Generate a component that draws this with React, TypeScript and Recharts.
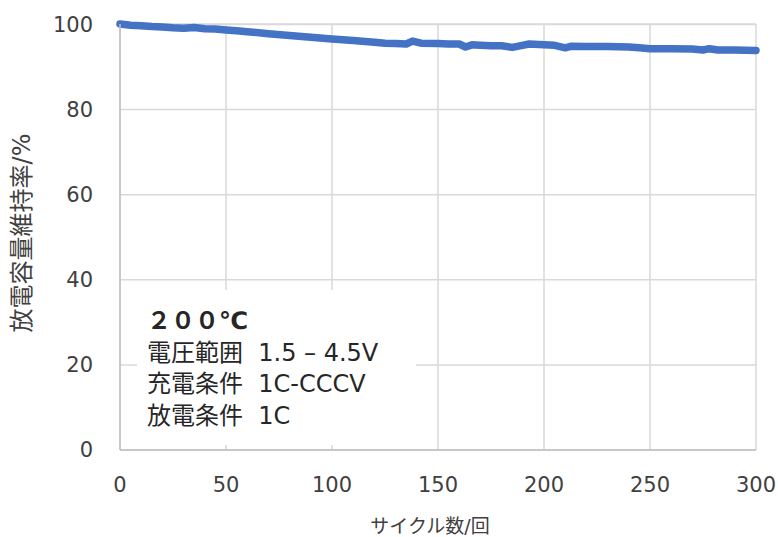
import React from 'react';
import { LineChart, Line, XAxis, YAxis, CartesianGrid, Label } from 'recharts';

const cycles = [0, 5, 10, 15, 20, 25, 30, 35, 40, 45, 50, 55, 60, 70, 80, 90, 100, 110, 120, 125, 130, 135, 138, 142, 150, 155, 160, 163, 166, 170, 175, 180, 185, 188, 193, 200, 205, 210, 213, 220, 230, 240, 245, 250, 260, 270, 275, 278, 282, 290, 300];
const retention = [100.1, 99.8, 99.7, 99.5, 99.4, 99.2, 99.1, 99.3, 99.0, 98.9, 98.7, 98.5, 98.3, 97.8, 97.4, 97.0, 96.6, 96.2, 95.8, 95.6, 95.5, 95.4, 96.1, 95.6, 95.5, 95.4, 95.4, 94.7, 95.2, 95.1, 95.0, 95.0, 94.6, 94.9, 95.4, 95.2, 95.1, 94.5, 94.9, 94.8, 94.8, 94.7, 94.5, 94.3, 94.3, 94.2, 94.0, 94.3, 94.0, 94.0, 93.9];
const xTicks = [0, 50, 100, 150, 200, 250, 300];
const yTicks = [0, 20, 40, 60, 80, 100];
const xTitle = 'サイクル数/回';
const yTitle = '放電容量維持率/%';
const noteLines = ['２００℃', '電圧範囲  1.5 – 4.5V', '充電条件  1C-CCCV', '放電条件  1C'];

const data = cycles.map((c, i) => ({ cycle: c, value: retention[i] }));

const FONT = '"DejaVu Sans", "Noto Sans CJK JP", sans-serif';
const TEXT = '#404040';

export default function App() {
  return (
    <div style={{ position: 'absolute', left: 0, top: 0, width: 778, height: 537, background: '#fff' }}>
      <LineChart width={778} height={537} data={data} margin={{ top: 24, right: 22, bottom: 0, left: 0 }}>
        <CartesianGrid stroke="#d9d9d9" strokeWidth={1.5} />
        <XAxis
          dataKey="cycle"
          type="number"
          domain={[0, 300]}
          ticks={xTicks}
          height={87}
          tickLine={false}
          tickSize={0}
          tickMargin={27}
          axisLine={{ stroke: '#bfbfbf', strokeWidth: 1.5 }}
          tick={{ fill: TEXT, fontSize: 21, fontFamily: FONT }}
          interval={0}
        >
          <Label value={xTitle} position="insideBottom" offset={4} dx={-8} style={{ fill: TEXT, fontSize: 19, fontFamily: FONT }} />
        </XAxis>
        <YAxis
          type="number"
          domain={[0, 100]}
          ticks={yTicks}
          width={120}
          tickLine={false}
          tickSize={0}
          tickMargin={27}
          axisLine={{ stroke: '#bfbfbf', strokeWidth: 1.5 }}
          tick={{ fill: TEXT, fontSize: 21, fontFamily: FONT }}
          interval={0}
        >
          <Label value={yTitle} angle={-90} position="insideLeft" offset={21} dy={-4} style={{ fill: TEXT, fontSize: 24, fontFamily: FONT, textAnchor: 'middle' }} />
        </YAxis>
        <Line
          type="linear"
          dataKey="value"
          stroke="#4472c4"
          strokeWidth={7.5}
          strokeLinecap="round"
          strokeLinejoin="round"
          dot={false}
          isAnimationActive={false}
        />
      </LineChart>
      <div
        style={{
          position: 'absolute',
          left: 137,
          top: 290,
          width: 279,
          height: 155,
          background: '#fff',
          boxSizing: 'border-box',
          paddingTop: 16,
          paddingLeft: 10,
          fontFamily: FONT,
          fontSize: 24,
          lineHeight: '31.5px',
          color: '#262626',
          whiteSpace: 'pre',
        }}
      >
        {noteLines.map((t, i) => (
          <div key={i} style={{ fontWeight: i === 0 ? 'bold' : 'normal' }}>{t}</div>
        ))}
      </div>
    </div>
  );
}
